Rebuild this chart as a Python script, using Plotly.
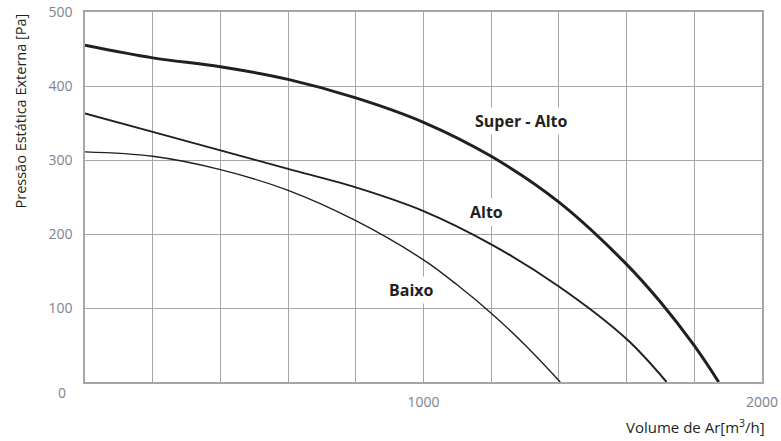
import plotly.graph_objects as go

# ---- data ----
super_x = [0, 200, 400, 600, 800, 1000, 1200, 1400, 1600, 1700, 1800, 1872]
super_y = [455, 438, 426, 409, 384, 351, 305, 243, 159, 108, 49, 0]

alto_x = [0, 200, 400, 600, 800, 1000, 1200, 1400, 1600, 1718]
alto_y = [363, 338, 313, 288, 263, 231, 186, 129, 58, 0]

baixo_x = [0, 200, 400, 600, 800, 1000, 1100, 1200, 1300, 1404]
baixo_y = [311, 305, 287, 259, 218, 165, 131, 93, 50, 0]

x_tickvals = [1000, 2000]
x_ticktext = ["1000", "2000"]
y_tickvals = [100, 200, 300, 400, 500]
y_ticktext = ["100", "200", "300", "400", "500"]

curve_labels = ["Super - Alto", "Alto", "Baixo"]
label_x = [1290, 1185, 965]
label_y = [353, 230, 125]

FONT = "Open Sans"
TICK_COLOR = "#7d8290"
LINE_COLOR = "#231f20"
GRID = "#a6a6a6"

fig = go.Figure()
for xs, ys, w in [(super_x, super_y, 3), (alto_x, alto_y, 2), (baixo_x, baixo_y, 1.4)]:
    fig.add_trace(go.Scatter(x=xs, y=ys, mode="lines",
                             line=dict(color=LINE_COLOR, width=w, shape="spline", smoothing=1.0),
                             showlegend=False, hoverinfo="skip"))

for t, lx, ly in zip(curve_labels, label_x, label_y):
    fig.add_annotation(x=lx, y=ly, text="<b>" + t + "</b>", showarrow=False,
                       font=dict(family=FONT, size=16, color=LINE_COLOR),
                       bgcolor="white", borderpad=2)

fig.add_annotation(xref="paper", yref="paper", x=-0.034, y=-0.029, text="0",
                   xanchor="center", yanchor="middle",
                   showarrow=False, font=dict(family=FONT, size=14, color=TICK_COLOR))
fig.add_annotation(xref="paper", yref="paper", x=1.008, y=-0.121,
                   xanchor="right", yanchor="middle",
                   text="Volume de Ar[m<sup>3</sup>/h]", showarrow=False,
                   font=dict(family=FONT, size=15, color=LINE_COLOR))
fig.add_annotation(xref="paper", yref="paper", x=-0.096, y=1.0,
                   xanchor="center", yanchor="top",
                   text="Pressão Estática Externa [Pa]", textangle=-90, showarrow=False,
                   font=dict(family=FONT, size=14.5, color=LINE_COLOR))

fig.update_xaxes(range=[0, 2000], tickvals=x_tickvals, ticktext=x_ticktext,
                 showgrid=True, gridcolor=GRID, gridwidth=1.3, zeroline=False,
                 minor=dict(dtick=200, tick0=0, showgrid=True, gridcolor=GRID, gridwidth=1.3),
                 showline=True, linecolor=GRID, linewidth=1.5, mirror=True,
                 ticks="", ticklabelstandoff=6, automargin=False,
                 tickfont=dict(family=FONT, size=14, color=TICK_COLOR))
fig.update_yaxes(range=[0, 500], tickvals=y_tickvals, ticktext=y_ticktext,
                 showgrid=True, gridcolor=GRID, gridwidth=1.3, zeroline=False,
                 showline=True, linecolor=GRID, linewidth=1.5, mirror=True,
                 ticks="", ticklabelstandoff=8, automargin=False,
                 tickfont=dict(family=FONT, size=14, color=TICK_COLOR))

fig.update_layout(width=781, height=441, plot_bgcolor="white", paper_bgcolor="white",
                  margin=dict(l=85, r=19, t=12, b=59))
fig.write_html("out.html", config={"displayModeBar": False},
               post_script="document.body.style.margin='0';")
